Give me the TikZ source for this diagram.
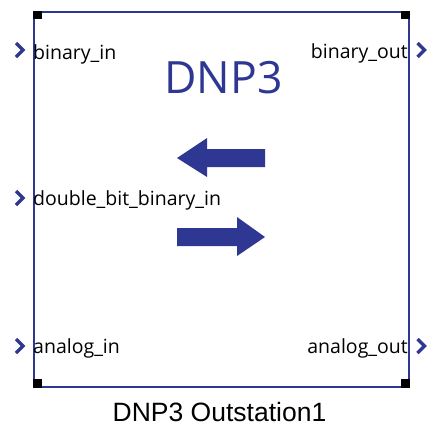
\documentclass[tikz,border=0pt]{standalone}
\usepackage{fontspec}
\setmainfont{Open Sans}
\newfontfamily\arialfont{Liberation Sans}
\definecolor{dnpblue}{RGB}{46,56,146}
\tikzset{
  port/.style={inner sep=0pt, font=\fontsize{19.5}{22}\selectfont, text=black},
  chev/.style={draw=dnpblue, line width=3.4pt, line cap=butt, line join=miter},
  corner/.style={fill=black, draw=none},
  bigarrow/.style={fill=dnpblue, draw=none},
}
\begin{document}
\begin{tikzpicture}[x=1pt,y=-1pt]
\useasboundingbox (0,0) rectangle (427,426);
% block
\node[draw=dnpblue, line width=2pt, minimum width=375pt, minimum height=375pt, inner sep=0pt, anchor=north west] (block) at (33,11) {};
% corner squares
\fill[corner] (block.north west) rectangle ++(9,8);
\fill[corner] (block.north east) rectangle ++(-9,8);
\fill[corner] (block.south west) rectangle ++(9,-9);
\fill[corner] (block.south east) rectangle ++(-9,-9);
% title
\node[inner sep=0pt, anchor=base, text=dnpblue, font=\fontsize{44.5}{50}\selectfont] (title) at (223.5,93) {DNP3};
% ports
\node[port, anchor=base west] (bin) at (33,59) {binary\_in};
\node[port, anchor=base west] (dbin) at (33,205) {double\_bit\_binary\_in};
\node[port, anchor=base west] (ain) at (33,353) {analog\_in};
\node[port, anchor=base east] (bout) at (408,58) {binary\_out};
\node[port, anchor=base east] (aout) at (408,353) {analog\_out};
% chevrons
\coordinate (cbin) at (23,50);
\coordinate (cdbin) at (23,198);
\coordinate (cain) at (23,346);
\coordinate (cbout) at (424.5,50);
\coordinate (caout) at (424.5,346);
\foreach \c in {cbin,cdbin,cain,cbout,caout}{
  \draw[chev] ([shift={(-7,-7)}]\c) -- (\c) -- ([shift={(-7,7)}]\c);
}
% arrows
\fill[bigarrow] (265,149) -- (207,149) -- (207,138) -- (177,158) -- (207,177) -- (207,167) -- (265,167) -- cycle;
\fill[bigarrow] (177,228) -- (237,228) -- (237,217) -- (265,237) -- (237,256) -- (237,246) -- (177,246) -- cycle;
% caption
\node[inner sep=0pt, anchor=base, font=\arialfont\fontsize{26.5}{30}\selectfont] (caption) at (219.5,421) {DNP3 Outstation1};
\end{tikzpicture}
\end{document}
